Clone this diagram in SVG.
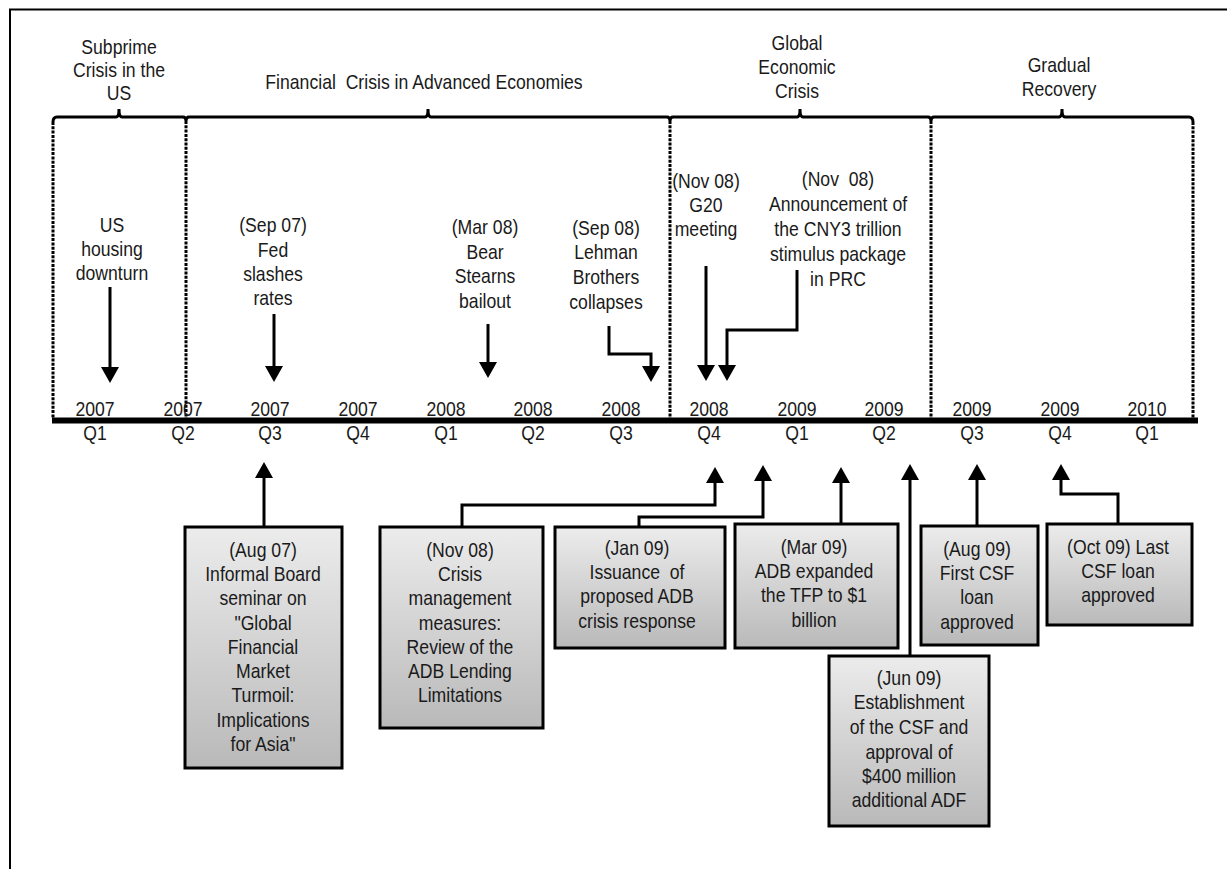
<svg xmlns="http://www.w3.org/2000/svg" width="1227" height="869" viewBox="0 0 1227 869">
<style>
.t{font-family:"Liberation Sans",Arial,sans-serif;font-size:20.5px;fill:#1a1a1a;text-anchor:middle;white-space:pre}
.br{fill:none;stroke:#000;stroke-width:3}
.dash{fill:none;stroke:#000;stroke-width:3;stroke-dasharray:3 1.3}
.c{fill:none;stroke:#000;stroke-width:3;marker-end:url(#ah)}
.box{fill:url(#g);stroke:#000;stroke-width:3}
</style>
<defs>
<linearGradient id="g" x1="0" y1="0" x2="0" y2="1">
<stop offset="0" stop-color="#ececec"/>
<stop offset="1" stop-color="#b9b9b9"/>
</linearGradient>
<marker id="ah" viewBox="0 0 16 18" refX="4" refY="9" markerWidth="16" markerHeight="18" markerUnits="userSpaceOnUse" orient="auto">
<path d="M0 0 L16 9 L0 18 Z" fill="#000"/>
</marker>
</defs>
<rect width="1227" height="869" fill="#fff"/>
<path d="M10 869 L10 9.5 L1227 9.5" fill="none" stroke="#000" stroke-width="2"/>

<g id="phases">
<path class="br" d="M53 122 Q53 117 57 117 L116 117 Q119 117 119 109 Q119 117 122 117 L183 117 Q186 117 186 121 Q186 117 189 117 L425 117 Q428 117 428 109 Q428 117 431 117 L667 117 Q670 117 670 121 Q670 117 673 117 L797 117 Q800 117 800 109 Q800 117 803 117 L928 117 Q931 117 931 121 Q931 117 934 117 L1059 117 Q1062 117 1062 109 Q1062 117 1065 117 L1189 117 Q1193 117 1193 122"/>
<path class="dash" d="M53 122 V418 M186 121 V418 M670 121 V418 M931 121 V418 M1193 122 V418"/>
<text class="t" transform="translate(119 0) scale(0.86 1)"><tspan x="0" y="54">Subprime</tspan><tspan x="0" y="77">Crisis in the</tspan><tspan x="0" y="100">US</tspan></text>
<text class="t" transform="translate(424 0) scale(0.86 1)" x="0" y="89">Financial  Crisis in Advanced Economies</text>
<text class="t" transform="translate(797 0) scale(0.86 1)"><tspan x="0" y="50">Global</tspan><tspan x="0" y="74">Economic</tspan><tspan x="0" y="98">Crisis</tspan></text>
<text class="t" transform="translate(1059 0) scale(0.86 1)"><tspan x="0" y="72">Gradual</tspan><tspan x="0" y="96">Recovery</tspan></text>
</g>

<g id="axis">
<line x1="52" y1="420.5" x2="1198" y2="420.5" stroke="#000" stroke-width="6"/>
<text class="t" transform="translate(95 0) scale(0.86 1)"><tspan x="0" y="416">2007</tspan><tspan x="0" y="440">Q1</tspan></text>
<text class="t" transform="translate(183 0) scale(0.86 1)"><tspan x="0" y="416">2007</tspan><tspan x="0" y="440">Q2</tspan></text>
<text class="t" transform="translate(270 0) scale(0.86 1)"><tspan x="0" y="416">2007</tspan><tspan x="0" y="440">Q3</tspan></text>
<text class="t" transform="translate(358 0) scale(0.86 1)"><tspan x="0" y="416">2007</tspan><tspan x="0" y="440">Q4</tspan></text>
<text class="t" transform="translate(446 0) scale(0.86 1)"><tspan x="0" y="416">2008</tspan><tspan x="0" y="440">Q1</tspan></text>
<text class="t" transform="translate(533 0) scale(0.86 1)"><tspan x="0" y="416">2008</tspan><tspan x="0" y="440">Q2</tspan></text>
<text class="t" transform="translate(621 0) scale(0.86 1)"><tspan x="0" y="416">2008</tspan><tspan x="0" y="440">Q3</tspan></text>
<text class="t" transform="translate(709 0) scale(0.86 1)"><tspan x="0" y="416">2008</tspan><tspan x="0" y="440">Q4</tspan></text>
<text class="t" transform="translate(797 0) scale(0.86 1)"><tspan x="0" y="416">2009</tspan><tspan x="0" y="440">Q1</tspan></text>
<text class="t" transform="translate(884 0) scale(0.86 1)"><tspan x="0" y="416">2009</tspan><tspan x="0" y="440">Q2</tspan></text>
<text class="t" transform="translate(972 0) scale(0.86 1)"><tspan x="0" y="416">2009</tspan><tspan x="0" y="440">Q3</tspan></text>
<text class="t" transform="translate(1060 0) scale(0.86 1)"><tspan x="0" y="416">2009</tspan><tspan x="0" y="440">Q4</tspan></text>
<text class="t" transform="translate(1147 0) scale(0.86 1)"><tspan x="0" y="416">2010</tspan><tspan x="0" y="440">Q1</tspan></text>
</g>

<g id="ev-us-housing">
<text class="t" transform="translate(112 0) scale(0.86 1)"><tspan x="0" y="232">US</tspan><tspan x="0" y="256">housing</tspan><tspan x="0" y="280">downturn</tspan></text>
</g>
<g id="ev-fed">
<text class="t" transform="translate(273 0) scale(0.86 1)"><tspan x="0" y="232">(Sep 07)</tspan><tspan x="0" y="257">Fed</tspan><tspan x="0" y="281">slashes</tspan><tspan x="0" y="305">rates</tspan></text>
</g>
<g id="ev-bear">
<text class="t" transform="translate(485 0) scale(0.86 1)"><tspan x="0" y="234">(Mar 08)</tspan><tspan x="0" y="259">Bear</tspan><tspan x="0" y="283">Stearns</tspan><tspan x="0" y="308">bailout</tspan></text>
</g>
<g id="ev-lehman">
<text class="t" transform="translate(606 0) scale(0.86 1)"><tspan x="0" y="235">(Sep 08)</tspan><tspan x="0" y="259">Lehman</tspan><tspan x="0" y="284">Brothers</tspan><tspan x="0" y="309">collapses</tspan></text>
</g>
<g id="ev-g20">
<text class="t" transform="translate(706 0) scale(0.86 1)"><tspan x="0" y="188">(Nov 08)</tspan><tspan x="0" y="212">G20</tspan><tspan x="0" y="236">meeting</tspan></text>
</g>
<g id="ev-cny">
<text class="t" transform="translate(838 0) scale(0.86 1)"><tspan x="0" y="186">(Nov  08)</tspan><tspan x="0" y="211">Announcement of</tspan><tspan x="0" y="236">the CNY3 trillion</tspan><tspan x="0" y="261">stimulus package</tspan><tspan x="0" y="286">in PRC</tspan></text>
</g>

<g id="box-aug07">
<rect class="box" x="185" y="527" width="157" height="241"/>
<text class="t" transform="translate(263 0) scale(0.86 1)"><tspan x="0" y="557">(Aug 07)</tspan><tspan x="0" y="581">Informal Board</tspan><tspan x="0" y="605">seminar on</tspan><tspan x="0" y="630">"Global</tspan><tspan x="0" y="654">Financial</tspan><tspan x="0" y="678">Market</tspan><tspan x="0" y="702">Turmoil:</tspan><tspan x="0" y="727">Implications</tspan><tspan x="0" y="751">for Asia"</tspan></text>
</g>
<g id="box-nov08">
<rect class="box" x="380" y="527" width="163" height="201"/>
<text class="t" transform="translate(460 0) scale(0.86 1)"><tspan x="0" y="557">(Nov 08)</tspan><tspan x="0" y="581">Crisis</tspan><tspan x="0" y="605">management</tspan><tspan x="0" y="630">measures:</tspan><tspan x="0" y="654">Review of the</tspan><tspan x="0" y="678">ADB Lending</tspan><tspan x="0" y="702">Limitations</tspan></text>
</g>
<g id="box-jan09">
<rect class="box" x="555" y="527" width="170" height="121"/>
<text class="t" transform="translate(637 0) scale(0.86 1)"><tspan x="0" y="555">(Jan 09)</tspan><tspan x="0" y="579">Issuance  of</tspan><tspan x="0" y="603">proposed ADB</tspan><tspan x="0" y="628">crisis response</tspan></text>
</g>
<g id="box-mar09">
<rect class="box" x="735" y="524" width="163" height="124"/>
<text class="t" transform="translate(814 0) scale(0.86 1)"><tspan x="0" y="554">(Mar 09)</tspan><tspan x="0" y="578">ADB expanded</tspan><tspan x="0" y="602">the TFP to $1</tspan><tspan x="0" y="627">billion</tspan></text>
</g>
<g id="box-jun09">
<rect class="box" x="829" y="656" width="160" height="170"/>
<text class="t" transform="translate(909 0) scale(0.86 1)"><tspan x="0" y="685">(Jun 09)</tspan><tspan x="0" y="709">Establishment</tspan><tspan x="0" y="734">of the CSF and</tspan><tspan x="0" y="759">approval of</tspan><tspan x="0" y="783">$400 million</tspan><tspan x="0" y="807">additional ADF</tspan></text>
</g>
<g id="box-aug09">
<rect class="box" x="921" y="526" width="117" height="119"/>
<text class="t" transform="translate(977 0) scale(0.86 1)"><tspan x="0" y="556">(Aug 09)</tspan><tspan x="0" y="580">First CSF</tspan><tspan x="0" y="604">loan</tspan><tspan x="0" y="629">approved</tspan></text>
</g>
<g id="box-oct09">
<rect class="box" x="1047" y="524" width="145" height="101"/>
<text class="t" transform="translate(1118 0) scale(0.86 1)"><tspan x="0" y="554">(Oct 09) Last</tspan><tspan x="0" y="578">CSF loan</tspan><tspan x="0" y="602">approved</tspan></text>
</g>

<g id="connectors">
<path class="c" d="M110 287 V371"/>
<path class="c" d="M274 314 V370"/>
<path class="c" d="M488 324 V366"/>
<path class="c" d="M609 326 V354 H651 V370"/>
<path class="c" d="M706 266 V369"/>
<path class="c" d="M797 270 V330 H727 V369"/>
<path class="c" d="M264 527 V474"/>
<path class="c" d="M462 527 V505 H715 V479"/>
<path class="c" d="M639 527 V517 H763 V477"/>
<path class="c" d="M841 524 V479"/>
<path class="c" d="M910 656 V476"/>
<path class="c" d="M977 526 V476"/>
<path class="c" d="M1118 524 V494 H1061 V476"/>
</g>
</svg>
